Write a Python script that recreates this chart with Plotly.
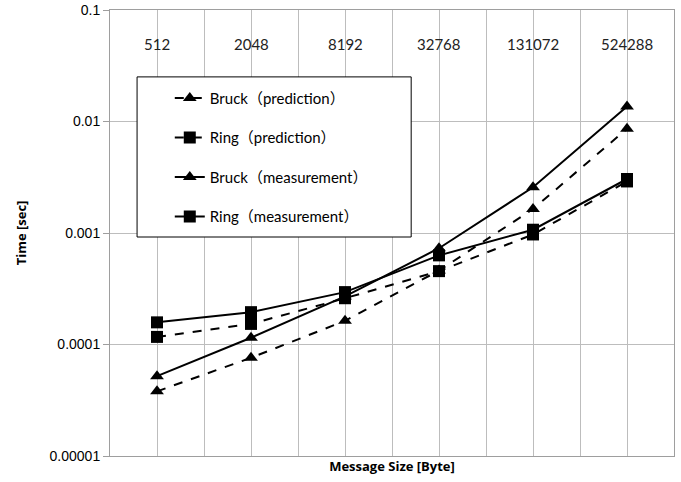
import plotly.graph_objects as go

sizes = ["512", "2048", "8192", "32768", "131072", "524288"]
bruck_pred = [3.8e-5, 7.6e-5, 1.63e-4, 4.6e-4, 1.64e-3, 8.6e-3]
ring_pred = [1.17e-4, 1.53e-4, 2.6e-4, 4.55e-4, 9.7e-4, 2.9e-3]
bruck_meas = [5.2e-5, 1.15e-4, 2.7e-4, 7.3e-4, 2.57e-3, 1.36e-2]
ring_meas = [1.58e-4, 1.95e-4, 2.95e-4, 6.3e-4, 1.07e-3, 3.05e-3]
series_names = ["Bruck（prediction）", "Ring（prediction）", "Bruck（measurement）", "Ring（measurement）"]
ytick_vals = [1e-5, 1e-4, 1e-3, 1e-2, 1e-1]
ytick_text = ["0.00001", "0.0001", "0.001", "0.01", "0.1"]

xpos = list(range(len(sizes)))
data = [bruck_pred, ring_pred, bruck_meas, ring_meas]
dashes = ["dash", "dash", "solid", "solid"]
symbols = ["triangle-up", "square", "triangle-up", "square"]

fig = go.Figure()
for i, (name, vals) in enumerate(zip(series_names, data)):
    fig.add_trace(go.Scatter(
        x=xpos, y=vals, name=name, mode="lines+markers",
        legendgroup=f"g{i}",
        line=dict(color="black", width=2, dash=dashes[i]),
        marker=dict(symbol=symbols[i], size=12, color="black"),
    ))

for i, s in enumerate(sizes):
    fig.add_annotation(x=i, y=0.948, xref="x", yref="paper", text=s,
                       showarrow=False, font=dict(family="Lato, Open Sans", size=15, color="#222"))

# legend frame
fig.add_shape(type="rect", xref="paper", yref="paper",
              x0=0.048, x1=0.534, y0=0.491, y1=0.85,
              line=dict(color="black", width=1), fillcolor="white", layer="above")

fig.update_layout(
    width=681, height=482,
    margin=dict(l=110, r=7, t=10, b=26),
    plot_bgcolor="white", paper_bgcolor="white",
    font=dict(family="Liberation Sans, Arial", size=13, color="black"),
    legend=dict(
        x=0.106, y=0.839, xanchor="left", yanchor="top",
        borderwidth=0, bgcolor="rgba(0,0,0,0)",
        font=dict(family="Lato, Noto Sans CJK JP", size=15, color="black"),
        tracegroupgap=17, itemwidth=30,
    ),
    xaxis=dict(
        range=[-0.5, 5.5], tick0=-0.5, dtick=0.5, showticklabels=False,
        showgrid=True, gridcolor="#bdbdbd", gridwidth=1, automargin=False,
        showline=True, linecolor="#9e9e9e", mirror=True, zeroline=False,
        title=dict(text="<b>Message Size [Byte]</b>", standoff=5,
                   font=dict(family="Open Sans, Lato", size=13)),
    ),
    yaxis=dict(
        type="log", range=[-5, -1], tickvals=ytick_vals, ticktext=ytick_text,
        showgrid=True, gridcolor="#bdbdbd", gridwidth=1, automargin=False,
        showline=True, linecolor="#9e9e9e", mirror=True,
        ticks="outside", ticklen=6, tickcolor="#9e9e9e",
        tickfont=dict(family="Liberation Sans, Arial", size=14),
        title=dict(text="<b>Time [sec]</b>", standoff=20,
                   font=dict(family="Open Sans, Lato", size=13)),
    ),
)

fig.write_html("out.html", config={"displayModeBar": False},
               post_script="document.body.style.margin='0';")
